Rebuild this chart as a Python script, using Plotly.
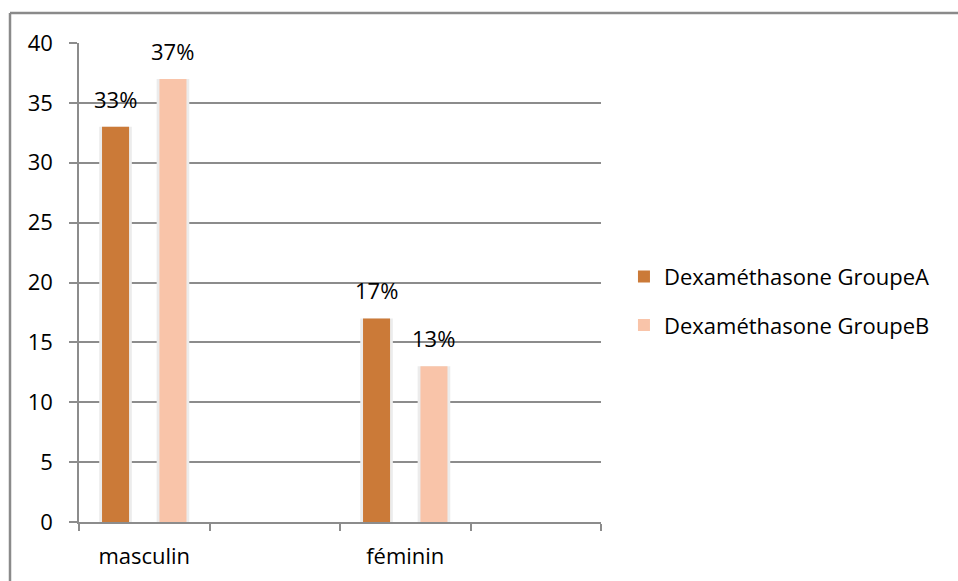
import plotly.graph_objects as go

# Category slots along the horizontal axis (empty slots keep the spacing)
categories = ["masculin", "", "féminin", ""]
bar_categories = ["masculin", "féminin"]
groupe_a = [33, 17]
groupe_b = [37, 13]
labels_a = ["33%", "17%"]
labels_b = ["37%", "13%"]
series_names = ["Dexaméthasone GroupeA", "Dexaméthasone GroupeB"]
y_ticks = [0, 5, 10, 15, 20, 25, 30, 35, 40]

color_a = "#CB7A38"
color_b = "#F9C4A9"
grid_color = "#8C8C8C"
font_family = "'Open Sans', Lato, sans-serif"
font_size = 22

x_pos = [categories.index(c) for c in bar_categories]

bar_w = 0.207
shadow_w = 0.25
offsets = [-0.22, 0.22]

fig = go.Figure()

for vals, off in zip([groupe_a, groupe_b], offsets):
    # soft halo behind each bar
    fig.add_trace(go.Bar(
        x=x_pos, y=vals, width=shadow_w, offset=off - shadow_w / 2,
        marker=dict(color="#ececec", line=dict(width=0)),
        showlegend=False, hoverinfo="skip",
    ))

for i, (vals, labels, off, col, name) in enumerate(zip(
        [groupe_a, groupe_b], [labels_a, labels_b], offsets,
        [color_a, color_b], series_names)):
    fig.add_trace(go.Bar(
        x=x_pos, y=vals, width=bar_w, offset=off - bar_w / 2,
        marker=dict(color=col, line=dict(width=0)),
        name=name, legendgroup=f"g{i}",
    ))
    # value labels above each bar
    for xp, v, t in zip(x_pos, vals, labels):
        fig.add_annotation(
            x=xp + off, y=v, xref="x", yref="y", text=t,
            showarrow=False, yanchor="bottom", xanchor="center", yshift=11,
            font=dict(family=font_family, size=font_size, color="#000000"),
        )

fig.update_layout(
    width=958, height=581,
    margin=dict(l=79, r=357, t=43, b=59),
    paper_bgcolor="white", plot_bgcolor="white",
    barmode="overlay",
    font=dict(family=font_family, size=font_size, color="#000000"),
    legend=dict(
        x=1.044, y=0.461, xanchor="left", yanchor="middle",
        font=dict(family=font_family, size=font_size, color="#000000"),
        tracegroupgap=17, itemsizing="constant",
        bgcolor="rgba(0,0,0,0)",
    ),
    showlegend=True,
)

fig.update_xaxes(
    range=[-0.5, len(categories) - 0.5],
    tickmode="array", tickvals=x_pos, ticktext=bar_categories,
    ticks="", showgrid=False, zeroline=False,
    showline=True, linecolor=grid_color, linewidth=1.5,
    ticklabelstandoff=14,
    minor=dict(tickmode="linear", tick0=-0.5, dtick=1, ticks="outside",
               ticklen=7, tickcolor=grid_color, tickwidth=1.5, showgrid=False),
)

fig.update_yaxes(
    range=[0, 40], tickmode="array", tickvals=y_ticks,
    ticks="outside", ticklen=8, tickcolor=grid_color, tickwidth=1.5,
    showgrid=True, gridcolor=grid_color, gridwidth=1.5,
    zeroline=False, showline=True, linecolor=grid_color, linewidth=1.5,
    ticklabelstandoff=12,
)

# Outer chart frame (top and left edges)
fig.add_shape(type="line", xref="paper", yref="paper",
              x0=(10 - 79) / 522, x1=(958 - 79) / 522,
              y0=1 + (43 - 13) / 479, y1=1 + (43 - 13) / 479,
              line=dict(color="#8a8a8a", width=2.5))
fig.add_shape(type="line", xref="paper", yref="paper",
              x0=(10 - 79) / 522, x1=(10 - 79) / 522,
              y0=-(581 - 522) / 479, y1=1 + (43 - 13) / 479,
              line=dict(color="#8a8a8a", width=2.5))

fig.write_html("out.html")
